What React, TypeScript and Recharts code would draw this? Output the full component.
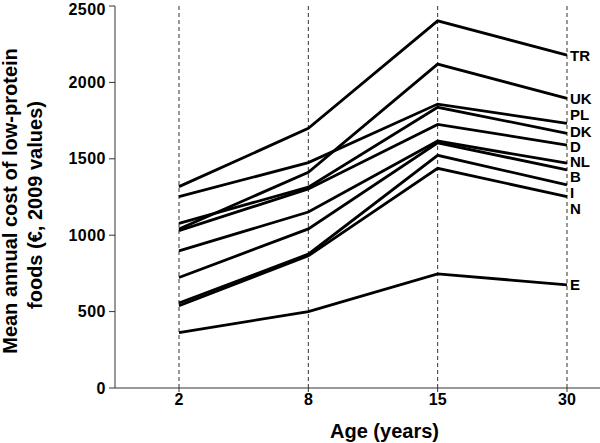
import { LabelList, Line, LineChart, ReferenceLine, XAxis, YAxis } from 'recharts'

// Mean annual cost of low-protein foods by age, one line per country.
const AGES = ['2', '8', '15', '30']
const TR = [1318, 1699, 2403, 2178]
const UK = [1040, 1412, 2120, 1895]
const PL = [1252, 1475, 1858, 1732]
const DK = [1078, 1314, 1837, 1667]
const D = [1030, 1303, 1725, 1590]
const NL = [897, 1152, 1616, 1471]
const B = [723, 1041, 1605, 1427]
const I = [556, 876, 1523, 1329]
const N = [538, 865, 1438, 1252]
const E = [363, 500, 747, 675]
const Y_TICKS = [0, 500, 1000, 1500, 2000, 2500]

const SERIES: { name: string; values: number[] }[] = [
  { name: 'TR', values: TR },
  { name: 'UK', values: UK },
  { name: 'PL', values: PL },
  { name: 'DK', values: DK },
  { name: 'D', values: D },
  { name: 'NL', values: NL },
  { name: 'B', values: B },
  { name: 'I', values: I },
  { name: 'N', values: N },
  { name: 'E', values: E },
]

// end labels are pushed apart a little where lines crowd together
const LABEL_NUDGE: Record<string, number> = { PL: -8.5, DK: -2, D: 1.5, NL: -1.5, B: 7, I: 8, N: 11.5 }

const FONT = '"Liberation Sans", Arial, sans-serif'
const INK = '#000'
const AXIS = '#333'

const rows = AGES.map((age, i) => {
  const row: Record<string, string | number> = { age }
  SERIES.forEach((s) => {
    row[s.name] = s.values[i]
  })
  return row
})

function endLabel(name: string) {
  return (props: any) => {
    if (props.index !== AGES.length - 1) return null
    const x = props.x ?? props.viewBox?.x
    const y = props.y ?? props.viewBox?.y
    return (
      <text
        x={x + 3}
        y={y + (LABEL_NUDGE[name] ?? 0)}
        dy="0.36em"
        fontSize={15}
        fontWeight="bold"
        fontFamily={FONT}
        fill={INK}
      >
        {name}
      </text>
    )
  }
}

function YTitle() {
  const style = { fontSize: 20, fontWeight: 'bold' as const, fontFamily: FONT, fill: INK }
  return (
    <g>
      <text x={17} y={201} transform="rotate(-90, 17, 201)" textAnchor="middle" {...style}>
        Mean annual cost of low-protein
      </text>
      <text x={41.5} y={205} transform="rotate(-90, 41.5, 205)" textAnchor="middle" {...style}>
        foods (€, 2009 values)
      </text>
    </g>
  )
}

export default function App() {
  const tick = { fill: INK, fontSize: 16, fontWeight: 'bold', fontFamily: FONT }
  return (
    <div style={{ position: 'absolute', left: 0, top: 0, background: '#fff' }}>
      <LineChart width={600} height={443} data={rows} margin={{ top: 6, right: 0, bottom: 0, left: 0 }}>
        <XAxis
          dataKey="age"
          scale="point"
          padding={{ left: 64, right: 33 }}
          interval={0}
          height={55}
          tickSize={4}
          tickMargin={2}
          tick={tick}
          axisLine={{ stroke: AXIS }}
          tickLine={{ stroke: AXIS }}
          label={{
            value: 'Age (years)',
            position: 'insideBottom',
            offset: 5,
            dx: 27,
            style: { fontSize: 20, fontWeight: 'bold', fontFamily: FONT, fill: INK },
          }}
        />
        <YAxis
          domain={[0, 2500]}
          ticks={Y_TICKS}
          width={115}
          tickSize={6}
          tickMargin={3}
          tick={{ ...tick, letterSpacing: 0.5 }}
          axisLine={{ stroke: AXIS }}
          tickLine={{ stroke: AXIS }}
          label={{ content: () => <YTitle /> }}
        />
        {AGES.map((age) => (
          <ReferenceLine key={age} x={age} stroke={AXIS} strokeDasharray="4 3" />
        ))}
        {SERIES.map((s) => (
          <Line
            key={s.name}
            dataKey={s.name}
            type="linear"
            stroke={INK}
            strokeWidth={2.8}
            dot={false}
            isAnimationActive={false}
          >
            <LabelList dataKey={s.name} content={endLabel(s.name)} />
          </Line>
        ))}
      </LineChart>
    </div>
  )
}
